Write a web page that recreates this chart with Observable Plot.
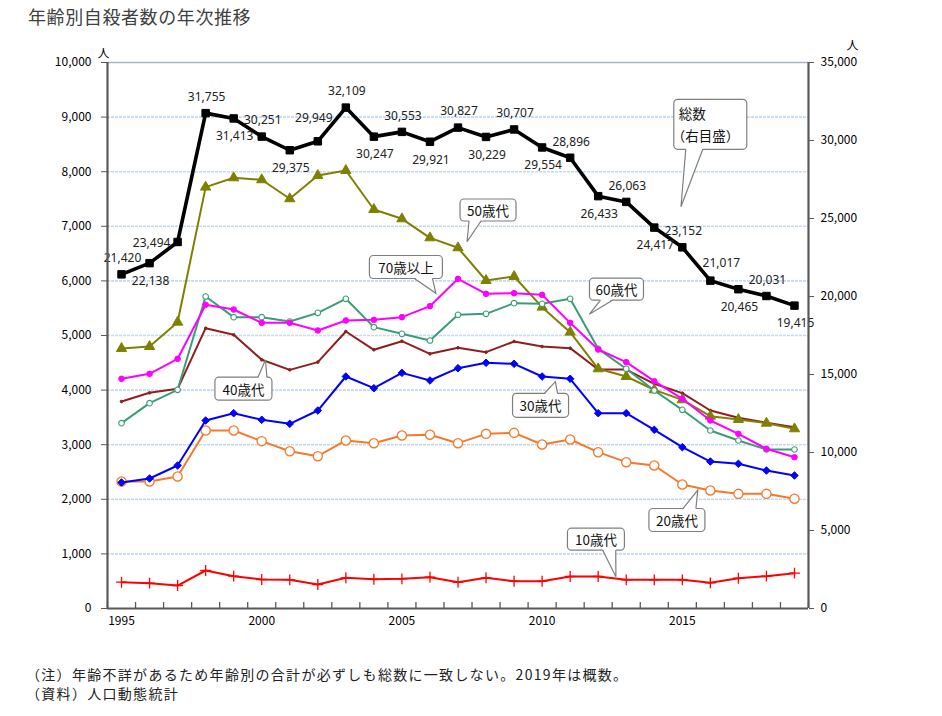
<!DOCTYPE html>
<html><head><meta charset="utf-8">
<script src="https://cdn.jsdelivr.net/npm/d3@7"></script>
<script src="https://cdn.jsdelivr.net/npm/@observablehq/plot@0.6"></script>
<style>
body{margin:0;background:#fff;font-family:"Noto Sans CJK JP",sans-serif;}
#wrap{position:relative;width:942px;height:716px;overflow:hidden;}
#title{position:absolute;left:28px;top:3px;font-size:18px;color:#404040;letter-spacing:0.6px;}
#chart{position:absolute;left:0;top:36px;}
#note{position:absolute;left:26px;top:665px;font-size:14px;line-height:19px;letter-spacing:1.3px;color:#222;}
</style></head><body>
<div id="wrap">
<div id="title">年齢別自殺者数の年次推移</div>
<div id="chart"></div>
<div id="note">（注）年齢不詳があるため年齢別の合計が必ずしも総数に一致しない。2019年は概数。<br>（資料）人口動態統計</div>
</div>
<script>
// ---- data ----
const years = [1995,1996,1997,1998,1999,2000,2001,2002,2003,2004,2005,2006,2007,2008,2009,2010,2011,2012,2013,2014,2015,2016,2017,2018,2019];
const total = [21420,22138,23494,31755,31413,30251,29375,29949,32109,30247,30553,29921,30827,30229,30707,29554,28896,26433,26063,24417,23152,21017,20465,20031,19415];
const age10 = [482,464,421,696,592,531,525,440,562,537,543,574,482,562,500,500,586,586,525,525,525,470,555,592,647];
const age20 = [2326,2326,2418,3260,3260,3065,2881,2790,3077,3028,3168,3181,3028,3199,3217,3004,3095,2863,2680,2619,2271,2161,2100,2100,2009];
const age30 = [2308,2381,2619,3443,3577,3456,3382,3626,4249,4035,4316,4176,4402,4500,4481,4249,4207,3577,3577,3273,2955,2692,2650,2527,2436];
const age40 = [3791,3950,4023,5134,5012,4555,4371,4512,5073,4738,4896,4664,4775,4695,4890,4798,4768,4377,4377,4115,3944,3626,3492,3401,3321];
const age50 = [4762,4798,5244,7717,7888,7852,7504,7930,8022,7308,7137,6789,6606,6007,6081,5519,5061,4390,4249,4005,3822,3522,3462,3394,3291];
const age60 = [3394,3761,4005,5714,5336,5336,5256,5415,5672,5153,5031,4908,5379,5397,5592,5580,5672,4756,4390,3993,3639,3260,3077,2912,2912];
const age70 = [4207,4298,4573,5562,5476,5232,5232,5092,5275,5287,5336,5537,6038,5763,5775,5745,5232,4744,4512,4163,3841,3443,3199,2925,2771];
const leftTicks = [0,1000,2000,3000,4000,5000,6000,7000,8000,9000,10000];
const rightTicks = [0,5000,10000,15000,20000,25000,30000,35000];
const xLabelYears = [1995,2000,2005,2010,2015];
const seriesNames = ["10歳代","20歳代","30歳代","40歳代","50歳代","60歳代","70歳以上","総数"];

// ---- layout / style config ----
const LEFT_MAX = 10000, RIGHT_MAX = 35000, k = LEFT_MAX / RIGHT_MAX;
const fmt = d3.format(",");
const labelSide = ["above","below","left","above","below","above","below","aboveLeft","above","below","above","below","above","below","above","below","above","below","above","below","above","aboveRight","below","above","below"];
const sideOffset = {above:[1,-16], below:[1,18], left:[-26,1], aboveLeft:[-4,-23], aboveRight:[11,-17]};

const ageSeries = [
  {name:seriesNames[0], values:age10, color:"#ff0000", symbol:"plus", r:3.6, fill:"none", sw:1.3},
  {name:seriesNames[1], values:age20, color:"#f5792a", symbol:"circle", r:4.6, fill:"white", sw:1.3},
  {name:seriesNames[2], values:age30, color:"#0000ff", symbol:"diamond2", r:3.4, fill:"#0000ff", sw:1},
  {name:seriesNames[3], values:age40, color:"#8e1f1f", symbol:"circle", r:1.3, fill:"#8e1f1f", sw:1},
  {name:seriesNames[4], values:age50, color:"#808000", symbol:"triangle", r:3.8, fill:"#808000", sw:1},
  {name:seriesNames[5], values:age60, color:"#3a9d74", symbol:"circle", r:2.8, fill:"white", sw:1.1},
  {name:seriesNames[6], values:age70, color:"#ff00ff", symbol:"circle", r:2.8, fill:"#ff00ff", sw:1}
];

const totalRows = years.map((y,i)=>({year:y, v:total[i], side:labelSide[i]}));

const marks = [];
// gridlines
marks.push(Plot.ruleY(leftTicks.filter(d=>d>0 && d<LEFT_MAX), {stroke:"#c3daf2", strokeWidth:1.6, strokeDasharray:"3,1"}));
marks.push(Plot.ruleY([LEFT_MAX], {stroke:"#a8b8c8", strokeWidth:1.6}));
// series
for (const s of ageSeries) {
  const rows = years.map((y,i)=>({year:y, v:s.values[i]}));
  marks.push(Plot.line(rows, {x:"year", y:"v", stroke:s.color, strokeWidth:2}));
  marks.push(Plot.dot(rows, {x:"year", y:"v", symbol:()=>s.symbol, r:s.r, fill:s.fill, stroke:s.color, strokeWidth:s.sw}));
}
marks.push(Plot.line(totalRows, {x:"year", y:d=>d.v*k, stroke:"#000", strokeWidth:3.6}));
marks.push(Plot.dot(totalRows, {x:"year", y:d=>d.v*k, symbol:"square", r:4.2, fill:"#000", stroke:"#000", strokeWidth:1}));
for (const side of Object.keys(sideOffset)) {
  const [dx,dy] = sideOffset[side];
  marks.push(Plot.text(totalRows.filter(d=>d.side===side), {x:"year", y:d=>d.v*k, text:d=>fmt(d.v), dx, dy, fontFamily:"'Noto Sans', sans-serif", fontSize:12, fill:"#222"}));
}
// axes
marks.push(Plot.axisY(leftTicks, {anchor:"left", tickSize:6, tickPadding:10, tickFormat:fmt, label:null, stroke:"#595959", fontSize:12}));
marks.push(Plot.axisY(rightTicks.map(v=>v*k), {anchor:"right", tickSize:5, tickPadding:7, tickFormat:d=>fmt(Math.round(d/k)), label:null, stroke:"#595959", fontSize:12}));
marks.push(Plot.axisX(xLabelYears, {tickSize:0, tickPadding:8, tickFormat:d=>String(d), label:null, fontSize:12}));
const boundaries = years.map(y=>y-0.5).concat([years[years.length-1]+0.5]);
marks.push(Plot.tickX(boundaries, {x:d=>d, stroke:"#595959", strokeWidth:1.3, insetTop:540}));
marks.push(Plot.ruleX([years[0]-0.5, years[years.length-1]+0.5], {stroke:"#595959", strokeWidth:2.2}));
marks.push(Plot.ruleY([0], {stroke:"#595959", strokeWidth:2.2}));
marks.push(Plot.text(["人"], {frameAnchor:"top-left", dx:-10, dy:-13, fontSize:12}));
marks.push(Plot.text(["人"], {frameAnchor:"top-right", dx:50, dy:-21, fontSize:12}));

const chart = Plot.plot({
  width:942, height:600,
  marginTop:26, marginBottom:28, marginLeft:107, marginRight:134,
  x:{domain:[years[0]-0.5, years[years.length-1]+0.5], axis:null},
  y:{domain:[0, LEFT_MAX], axis:null},
  style:{fontFamily:"'Noto Sans CJK JP', sans-serif", fontSize:"12px", color:"#000", background:"white", overflow:"visible"},
  marks
});
document.getElementById("chart").appendChild(chart);

// ---- callouts (anchored to data coordinates via Plot's scales) ----
const callouts = [
  {lines:["総数","（右目盛）"], year:2014.97, value:7350, dx:29.3, dy:-82.4, w:73, h:50, edge:"bottom", off:-16, bw:17, align:"left"},
  {lines:[seriesNames[4]], year:2007.34, value:6709, dx:21, dy:-31.7, w:56, h:22, edge:"bottom", off:-13, bw:12},
  {lines:[seriesNames[6]], year:2006.23, value:5764, dx:-30, dy:-26.3, w:73, h:23, edge:"bottom", off:17.5, bw:18},
  {lines:[seriesNames[5]], year:2011.70, value:5379, dx:27.2, dy:-25.1, w:54, h:22, edge:"bottom", off:-10, bw:12},
  {lines:[seriesNames[3]], year:2000.15, value:4542, dx:-22, dy:28.7, w:57, h:23, edge:"top", off:19, bw:9},
  {lines:[seriesNames[2]], year:2010.49, value:4145, dx:-14.8, dy:23.6, w:56, h:24, edge:"top", off:10.5, bw:13},
  {lines:[seriesNames[1]], year:2015.57, value:2161, dx:-20.9, dy:30, w:56, h:23, edge:"top", off:12.5, bw:13},
  {lines:[seriesNames[0]], year:2012.65, value:573, dx:-20, dy:-37.5, w:57, h:22, edge:"bottom", off:13.3, bw:13}
];
const sx = chart.scale("x"), sy = chart.scale("y");
const svg = d3.select(chart);
const g = svg.append("g").attr("font-family","'Noto Sans CJK JP', sans-serif").attr("font-size",13.5);
for (const c of callouts) {
  const tx = sx.apply(c.year), ty = sy.apply(c.value);
  const cx = tx + c.dx, cy = ty + c.dy;
  const ey = c.edge === "bottom" ? cy + c.h/2 : cy - c.h/2;
  const inw = c.edge === "bottom" ? -1.2 : 1.2;
  const x1 = cx + c.off - c.bw/2, x2 = cx + c.off + c.bw/2;
  g.append("rect").attr("x",cx-c.w/2).attr("y",cy-c.h/2).attr("width",c.w).attr("height",c.h)
    .attr("rx",4).attr("fill","white").attr("stroke","#7f7f7f").attr("stroke-width",1.2);
  g.append("path").attr("d",`M${x1},${ey+inw}L${tx},${ty}L${x2},${ey+inw}Z`).attr("fill","white");
  g.append("path").attr("d",`M${x1},${ey}L${tx},${ty}L${x2},${ey}`).attr("fill","none").attr("stroke","#7f7f7f").attr("stroke-width",1.2);
  if (c.align === "left") {
    c.lines.forEach((t,i)=>{
      g.append("text").attr("x",cx-c.w/2+(i===0?5:-2)).attr("y",cy-11+22*i).attr("text-anchor","start").attr("dominant-baseline","central").attr("fill","#111").text(t);
    });
  } else {
    g.append("text").attr("x",cx).attr("y",cy).attr("text-anchor","middle").attr("dominant-baseline","central").attr("fill","#111").text(c.lines[0]);
  }
}
</script>
</body></html>
